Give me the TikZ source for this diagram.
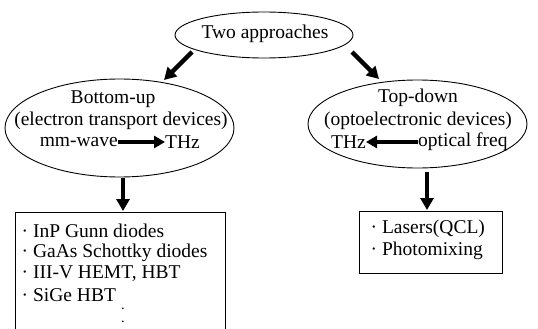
\documentclass[tikz,border=0pt]{standalone}
\usepackage{fontspec}
\setmainfont{Liberation Serif}
\usetikzlibrary{shapes.geometric,arrows.meta}
\begin{document}
\begin{tikzpicture}[x=1pt,y=-1pt,
  oval/.style={draw, ellipse, line width=0.9pt, inner sep=0},
  big/.style={font=\fontsize{19.5}{22}\selectfont, inner sep=0},
  item/.style={font=\fontsize{19.5}{22}\selectfont, inner sep=0, anchor=west},
  dotmark/.style={font=\fontsize{14}{14}\selectfont, inner sep=0, anchor=base},
  boxed/.style={draw, rectangle, line width=0.9pt, inner sep=0},
  fat/.style={line width=4.5pt, -{Triangle[length=12pt,width=13pt]}},
  slim/.style={line width=4pt, -{Triangle[length=11pt,width=12pt]}}]
\useasboundingbox (0,0) rectangle (538,329);
% top
\node[oval, minimum width=178pt, minimum height=46pt] (top) at (264,35) {};
\node[big] (toptxt) at (265,34) {Two approaches};
% left ellipse
\node[oval, minimum width=229pt, minimum height=98pt] (left) at (119.5,128) {};
\node[big] (lt1) at (113,99) {Bottom-up};
\node[big] (lt2) at (121,121) {(electron transport devices)};
\node[big, anchor=east] (mm) at (118,142) {mm-wave};
\node[big, anchor=west] (lthz) at (165,142) {THz};
\draw[slim] (mm.east) -- (lthz.west);
% right ellipse
\node[oval, minimum width=219pt, minimum height=88pt] (right) at (417.5,124) {};
\node[big] (rt1) at (418,98) {Top-down};
\node[big] (rt2) at (418,121) {(optoelectronic devices)};
\node[big, anchor=east] (rthz) at (366,142) {THz};
\node[big, anchor=west] (opt) at (418,142) {optical freq};
\draw[slim] (opt.west) -- (rthz.east);
% top arrows
\coordinate (a1s) at (192,52);
\coordinate (a1e) at (164,80);
\coordinate (a2s) at (352,52);
\coordinate (a2e) at (379,79);
\draw[fat] (a1s) -- (a1e);
\draw[fat] (a2s) -- (a2e);
% boxes
\node[boxed, minimum width=210pt, minimum height=130pt, anchor=north] (lbox) at (120.5,212) {};
\node[boxed, minimum width=143pt, minimum height=62pt] (rbox) at (430.5,242) {};
\coordinate (d1s) at (123,178);
\coordinate (d1e) at (123,211);
\coordinate (d2s) at (427,172);
\coordinate (d2e) at (427,210);
\draw[fat] (d1s) -- (d1e);
\draw[fat] (d2s) -- (d2e);
% left list
\node[item] (i1) at (21.5,231) {· InP Gunn diodes};
\node[item] (i2) at (21.5,253) {· GaAs Schottky diodes};
\node[item] (i3) at (21.5,274) {· III-V HEMT, HBT};
\node[item] (i4) at (21.5,295) {· SiGe HBT};
\node[dotmark] (dt1) at (123,313) {·};
\node[dotmark] (dt2) at (123,326) {·};
% right list
\node[item] (j1) at (370.5,229) {· Lasers(QCL)};
\node[item] (j2) at (370.5,251) {· Photomixing};
\end{tikzpicture}
\end{document}
